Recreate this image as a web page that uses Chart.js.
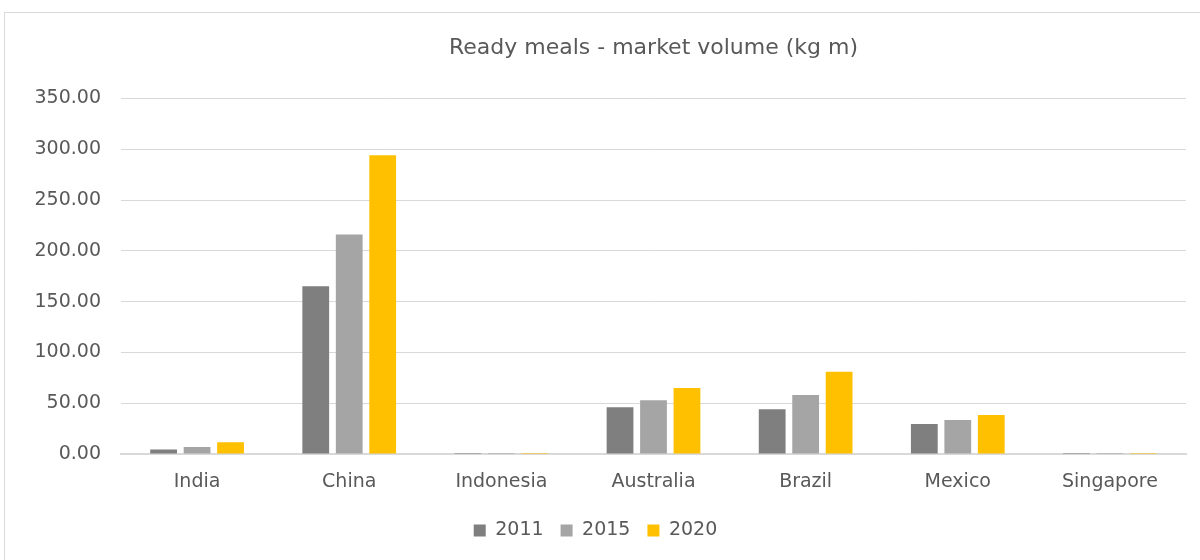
<!DOCTYPE html>
<html>
<head>
<meta charset="utf-8">
<script src="https://cdn.jsdelivr.net/npm/chart.js@4"></script>
<style>
  html, body { margin: 0; padding: 0; background: #fff; overflow: hidden; }
  #box {
    position: absolute; left: 4px; top: 12px;
    width: 1200px; height: 560px;
    border: 1px solid #d9d9d9; box-sizing: border-box;
  }
  #wrap { position: absolute; left: 0; top: 0; width: 1196px; height: 548px; }
</style>
</head>
<body>
<div id="box"><div id="wrap"><canvas id="barchart"></canvas></div></div>
<script>
// market volume per country, kg m
const countries = ['India', 'China', 'Indonesia', 'Australia', 'Brazil', 'Mexico', 'Singapore'];
const vol2011 = [4.5, 165, 0.05, 46, 44, 29.5, 0.05];
const vol2015 = [7, 216, 0.05, 53, 58, 33.5, 0.05];
const vol2020 = [11.5, 294, 0.9, 65, 81, 38.5, 0.9];
const yTicks = [0, 50, 100, 150, 200, 250, 300, 350];

const textColor = '#595959';
const fontFamily = "'DejaVu Sans', sans-serif";

new Chart(
  document.getElementById('barchart'),
  {
    type: 'bar',
    data: {
      labels: countries,
      datasets: [
        { label: '2011', data: vol2011, backgroundColor: '#7f7f7f' },
        { label: '2015', data: vol2015, backgroundColor: '#a5a5a5' },
        { label: '2020', data: vol2020, backgroundColor: '#ffc000' }
      ]
    },
    options: {
      responsive: true,
      maintainAspectRatio: false,
      animation: false,
      datasets: { bar: { categoryPercentage: 0.66, barPercentage: 0.8 } },
      layout: { padding: { left: 0, right: 15, top: 0, bottom: 11 } },
      plugins: {
        title: {
          display: true,
          fullSize: false, // centre over the plot like the original
          text: 'Ready meals - market volume (kg m)',
          color: textColor,
          font: { family: fontFamily, size: 22, weight: 'normal' },
          padding: { top: 22, bottom: 37 }
        },
        legend: {
          position: 'bottom',
          labels: {
            color: textColor,
            font: { family: fontFamily, size: 19 },
            boxWidth: 12, boxHeight: 12,
            padding: 17
          }
        },
        tooltip: { enabled: false }
      },
      scales: {
        x: {
          grid: { display: false },
          border: { display: true, color: '#d9d9d9', width: 2 },
          ticks: { color: textColor, font: { family: fontFamily, size: 19 }, padding: 9 },
          afterFit: function (scale) { scale.height = 50; }
        },
        y: {
          min: 0, max: 350,
          afterBuildTicks: function (scale) { scale.ticks = yTicks.map(v => ({ value: v })); },
          grid: { color: '#d9d9d9', drawTicks: false },
          border: { display: false },
          ticks: {
            color: textColor,
            font: { family: fontFamily, size: 19 },
            padding: 20,
            callback: function (value) { return value.toFixed(2); }
          },
          afterFit: function (scale) { scale.width = 116; }
        }
      }
    }
  }
);
</script>
</body>
</html>
